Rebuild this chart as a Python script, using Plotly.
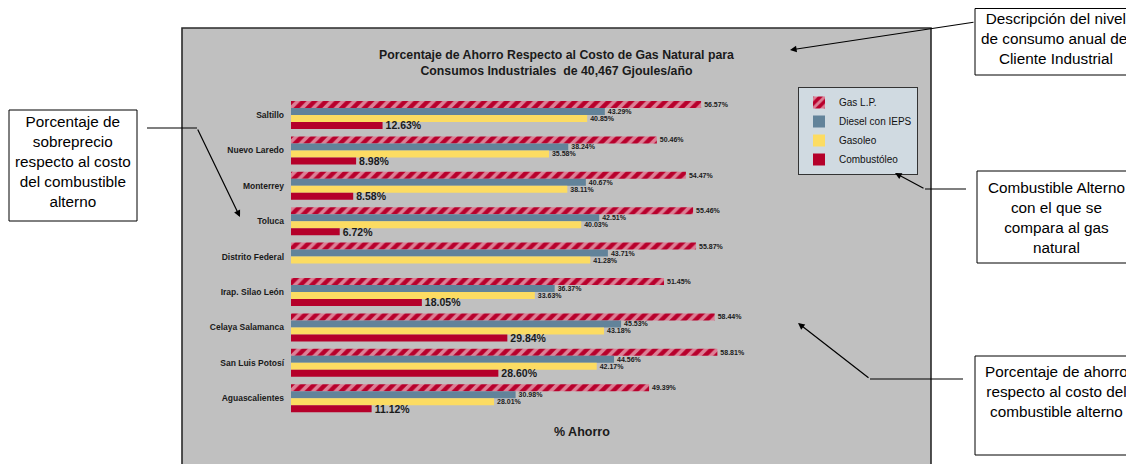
import plotly.graph_objects as go

ciudades = ["Saltillo", "Nuevo Laredo", "Monterrey", "Toluca", "Distrito Federal",
            "Irap. Silao León", "Celaya Salamanca", "San Luis Potosí", "Aguascalientes"]
gas_lp = [56.57, 50.46, 54.47, 55.46, 55.87, 51.45, 58.44, 58.81, 49.39]
diesel = [43.29, 38.24, 40.67, 42.51, 43.71, 36.37, 45.53, 44.56, 30.98]
gasoleo = [40.85, 35.58, 38.11, 40.03, 41.28, 33.63, 43.18, 42.17, 28.01]
combustoleo = [12.63, 8.98, 8.58, 6.72, None, 18.05, 29.84, 28.60, 11.12]

# page layout (page pixels; the html body adds an 8px margin)
OFF = 8
W, H = 1134 - OFF, 464 - OFF
PL, PR, PT, PB = 291, 1114, 40, 454   # plot area edges on the page
FONT = "Liberation Sans, Arial, sans-serif"
PX_PER_PCT = 7.25      # horizontal scale of the bars
ROW = 35.4             # pixels per city
FIRST_ROW = 115        # page y of the first city


def px(x):
    return (x - PL) / (PR - PL)


def py(y):
    return 1 - (y - PT) / (PB - PT)


fig = go.Figure()
small = dict(family=FONT, size=7, color="#1a1a1a", weight="bold")
fig.add_trace(go.Bar(y=ciudades, x=gas_lp, orientation="h", name="Gas L.P.",
                     marker=dict(color="#B8002C", line_width=0,
                                 pattern=dict(shape="/", bgcolor="#B8002C", fgcolor="white",
                                              size=8, solidity=0.45)),
                     texttemplate="%{x:.2f}%", textposition="outside", textfont=small,
                     constraintext="none", cliponaxis=False, hoverinfo="skip"))
fig.add_trace(go.Bar(y=ciudades, x=diesel, orientation="h", name="Diesel con IEPS",
                     marker=dict(color="#62839A", line_width=0),
                     texttemplate="%{x:.2f}%", textposition="outside", textfont=small,
                     constraintext="none", cliponaxis=False, hoverinfo="skip"))
fig.add_trace(go.Bar(y=ciudades, x=gasoleo, orientation="h", name="Gasoleo",
                     marker=dict(color="#FCDC62", line_width=0),
                     texttemplate="%{x:.2f}%", textposition="outside", textfont=small,
                     constraintext="none", cliponaxis=False, hoverinfo="skip"))
fig.add_trace(go.Bar(y=ciudades, x=combustoleo, orientation="h", name="Combustóleo",
                     marker=dict(color="#B5002A", line_width=0),
                     texttemplate="%{x:.2f}%", textposition="outside",
                     textfont=dict(family=FONT, size=10.5, color="#1a1a1a", weight="bold"),
                     constraintext="none", cliponaxis=False, hoverinfo="skip"))

# gray chart panel
shapes = [dict(type="rect", xref="paper", yref="paper", x0=px(182), x1=px(931), y0=py(28), y1=py(475),
               fillcolor="#C0C0C0", line=dict(color="#2a2a2a", width=1.6), layer="below")]
# callout boxes
boxes = [(9, 110, 137, 221), (975, 8.5, 1140, 75), (977, 171, 1140, 263), (975, 356, 1140, 455)]
for x0, y0, x1, y1 in boxes:
    shapes.append(dict(type="rect", xref="paper", yref="paper", x0=px(x0), x1=px(x1), y0=py(y0), y1=py(y1),
                       fillcolor="white", line=dict(color="black", width=1)))
# horizontal leader segments
for x0, x1, y in [(147, 197, 128), (925, 966, 189), (870, 963, 379)]:
    shapes.append(dict(type="line", xref="paper", yref="paper", x0=px(x0), x1=px(x1), y0=py(y), y1=py(y),
                       line=dict(color="black", width=1.2)))

annotations = [
    dict(x=px(556), y=py(63), xref="paper", yref="paper", showarrow=False,
         xanchor="center", yanchor="middle",
         text="Porcentaje de Ahorro Respecto al Costo de Gas Natural para<br>Consumos Industriales  de 40,467 Gjoules/año",
         font=dict(family=FONT, size=12.3, color="#1a1a1a", weight="bold")),
    dict(x=px(582), y=py(432), xref="paper", yref="paper", showarrow=False, text="% Ahorro",
         xanchor="center", yanchor="middle",
         font=dict(family=FONT, size=12.5, color="#1a1a1a", weight="bold")),
]
callouts = [
    (73, 161, "Porcentaje de<br>sobreprecio<br>respecto al costo<br>del combustible<br>alterno"),
    (1056, 39, "Descripción del nivel<br>de consumo anual del<br>Cliente Industrial"),
    (1056, 217, "Combustible Alterno<br>con el que se<br>compara al gas<br>natural"),
    (1056, 391, "Porcentaje de ahorro<br>respecto al costo del<br>combustible alterno"),
]
for x, y, t in callouts:
    annotations.append(dict(x=px(x), y=py(y), xref="paper", yref="paper", showarrow=False, text=t,
                            xanchor="center", yanchor="middle",
                            font=dict(family=FONT, size=15.3, color="black")))
# arrows: head position, tail position (page pixels)
arrows = [((790, 50), (975, 22)), ((240, 217), (197, 128)), ((895, 173), (925, 189)), ((798, 323), (870, 379))]
for (hx, hy), (tx, ty) in arrows:
    annotations.append(dict(x=px(hx), y=py(hy), xref="paper", yref="paper", text="", showarrow=True,
                            ax=tx - hx, ay=ty - hy, arrowhead=2, arrowsize=1.1, arrowwidth=1.2,
                            arrowcolor="black"))

fig.update_layout(
    width=W, height=H,
    margin=dict(l=PL - OFF, r=OFF + W - PR, t=PT - OFF, b=OFF + H - PB),
    paper_bgcolor="white", plot_bgcolor="rgba(0,0,0,0)",
    barmode="group", bargap=0.21, bargroupgap=0,
    shapes=shapes, annotations=annotations,
    legend=dict(x=px(798), y=py(87), xanchor="left", yanchor="top", bgcolor="#D0DAE1",
                bordercolor="#333333", borderwidth=1, itemwidth=30, tracegroupgap=0,
                font=dict(family=FONT, size=10, color="#111111")),
    showlegend=True,
)
fig.update_xaxes(range=[0, (PR - PL) / PX_PER_PCT], showticklabels=False, showgrid=False,
                 zeroline=False, showline=False)
fig.update_yaxes(range=[(PB - FIRST_ROW) / ROW, (PT - FIRST_ROW) / ROW],
                 showgrid=False, zeroline=False, showline=False, ticks="", ticklabelstandoff=6,
                 tickfont=dict(family=FONT, size=8.5, color="#1a1a1a", weight="bold"))

fig.write_html("out.html")
